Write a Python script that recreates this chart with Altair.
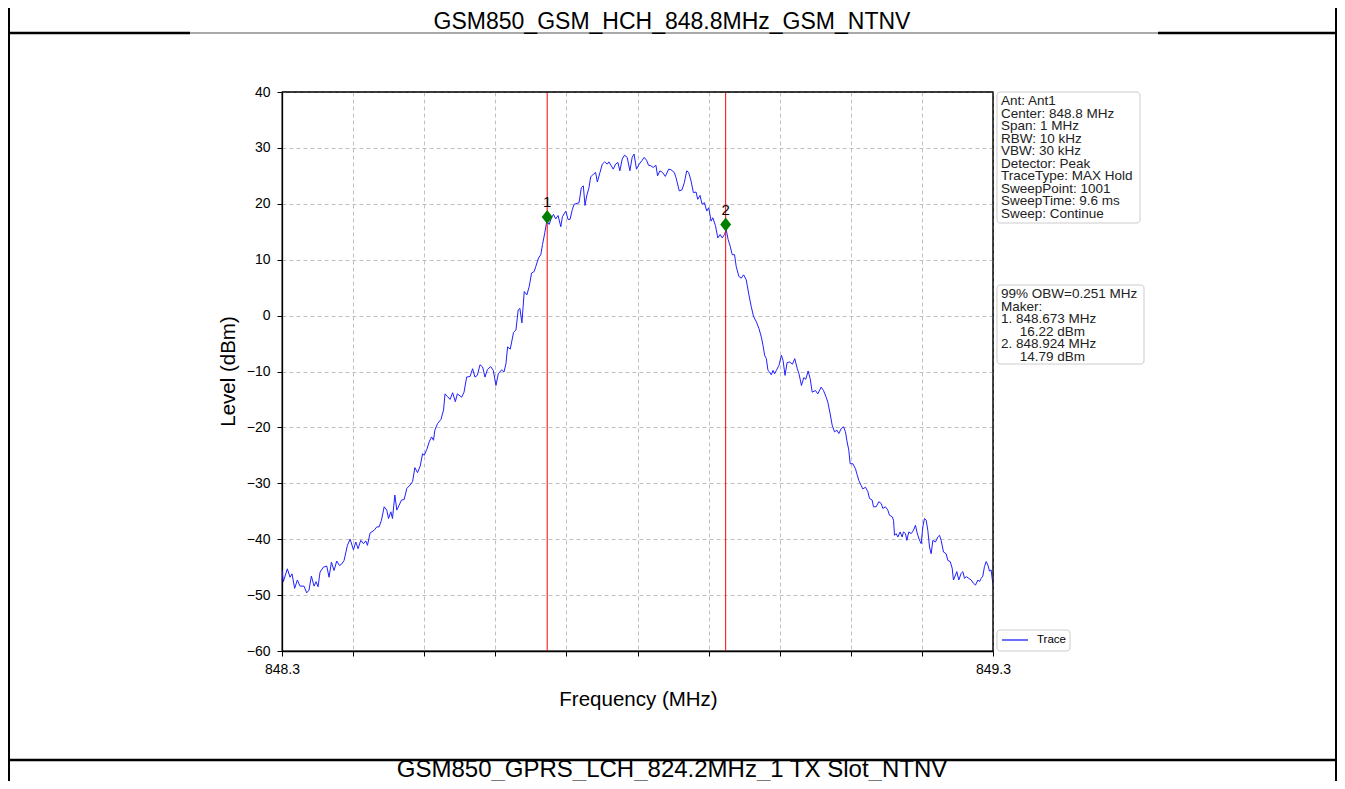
import altair as alt
import pandas as pd

# ---------------- data ----------------
freq_mhz = [
    848.3000, 848.3019, 848.3075, 848.3113, 848.3141, 848.3178, 848.3216, 848.3254, 848.3310, 848.3347,
    848.3380, 848.3413, 848.3451, 848.3479, 848.3507, 848.3535, 848.3582, 848.3629, 848.3662, 848.3695,
    848.3732, 848.3770, 848.3808, 848.3836, 848.3873, 848.3920, 848.3958, 848.4005, 848.4038, 848.4070,
    848.4108, 848.4146, 848.4178, 848.4202, 848.4239, 848.4296, 848.4333, 848.4366, 848.4399, 848.4437,
    848.4474, 848.4498, 848.4531, 848.4554, 848.4587, 848.4615, 848.4648, 848.4681, 848.4718, 848.4756,
    848.4803, 848.4836, 848.4869, 848.4906, 848.4944, 848.4977, 848.5000, 848.5038, 848.5070, 848.5103,
    848.5131, 848.5150, 848.5188, 848.5235, 848.5272, 848.5293, 848.5329, 848.5363, 848.5400, 848.5438,
    848.5466, 848.5527, 848.5560, 848.5597, 848.5644, 848.5681, 848.5714, 848.5747, 848.5785, 848.5822,
    848.5855, 848.5888, 848.5934, 848.5972, 848.6009, 848.6042, 848.6089, 848.6122, 848.6150, 848.6173,
    848.6210, 848.6257, 848.6290, 848.6322, 848.6346, 848.6374, 848.6407, 848.6444, 848.6477, 848.6510,
    848.6547, 848.6570, 848.6607, 848.6640, 848.6664, 848.6696, 848.6724, 848.6757, 848.6790, 848.6818,
    848.6850, 848.6883, 848.6921, 848.6944, 848.6991, 848.7023, 848.7051, 848.7084, 848.7107, 848.7178,
    848.7210, 848.7238, 848.7262, 848.7285, 848.7318, 848.7341, 848.7379, 848.7411, 848.7435, 848.7472,
    848.7505, 848.7537, 848.7575, 848.7598, 848.7631, 848.7659, 848.7692, 848.7724, 848.7752, 848.7785,
    848.7818, 848.7855, 848.7893, 848.7925, 848.7951, 848.7986, 848.8024, 848.8061, 848.8094, 848.8127,
    848.8155, 848.8188, 848.8221, 848.8259, 848.8282, 848.8315, 848.8353, 848.8391, 848.8438, 848.8471,
    848.8518, 848.8541, 848.8588, 848.8626, 848.8659, 848.8692, 848.8720, 848.8753, 848.8786, 848.8824,
    848.8847, 848.8880, 848.8908, 848.8941, 848.8974, 848.9002, 848.9035, 848.9059, 848.9096, 848.9130,
    848.9162, 848.9191, 848.9224, 848.9247, 848.9275, 848.9304, 848.9332, 848.9365, 848.9388, 848.9426,
    848.9459, 848.9492, 848.9529, 848.9567, 848.9600, 848.9633, 848.9671, 848.9708, 848.9741, 848.9765,
    848.9788, 848.9812, 848.9835, 848.9859, 848.9882, 848.9906, 848.9929, 848.9953, 848.9990, 849.0024,
    849.0047, 849.0075, 849.0104, 849.0141, 849.0179, 849.0212, 849.0245, 849.0273, 849.0306, 849.0339,
    849.0367, 849.0400, 849.0429, 849.0457, 849.0503, 849.0536, 849.0583, 849.0616, 849.0654, 849.0677,
    849.0710, 849.0738, 849.0771, 849.0804, 849.0832, 849.0865, 849.0898, 849.0925, 849.0944, 849.0972,
    849.0991, 849.1029, 849.1066, 849.1085, 849.1113, 849.1146, 849.1169, 849.1207, 849.1240, 849.1263,
    849.1300, 849.1319, 849.1357, 849.1394, 849.1427, 849.1451, 849.1488, 849.1521, 849.1544, 849.1582,
    849.1601, 849.1615, 849.1638, 849.1662, 849.1694, 849.1722, 849.1741, 849.1769, 849.1788, 849.1816,
    849.1849, 849.1882, 849.1910, 849.1929, 849.1966, 849.1990, 849.2013, 849.2036, 849.2060, 849.2083,
    849.2107, 849.2130, 849.2154, 849.2191, 849.2224, 849.2248, 849.2271, 849.2304, 849.2341, 849.2365,
    849.2398, 849.2426, 849.2444, 849.2473, 849.2491, 849.2519, 849.2552, 849.2576, 849.2599, 849.2623,
    849.2660, 849.2693, 849.2726, 849.2754, 849.2787, 849.2810, 849.2834, 849.2857, 849.2880, 849.2904,
    849.2927, 849.2951, 849.2974, 849.3000,
]
level_dbm = [
    -45.5, -47.6, -45.3, -46.8, -46.2, -48.8, -47.3, -48.4, -48.4, -49.6,
    -49.1, -46.6, -48.4, -47.6, -48.5, -45.9, -45.0, -44.8, -46.8, -44.1,
    -45.6, -43.9, -44.7, -44.5, -43.8, -41.1, -40.0, -41.9, -40.5, -41.7,
    -40.2, -40.8, -40.3, -41.1, -38.9, -38.4, -37.8, -37.8, -36.6, -34.2,
    -34.8, -36.3, -35.1, -36.3, -32.1, -34.8, -33.9, -33.0, -32.9, -30.9,
    -30.3, -29.7, -27.2, -28.1, -26.9, -24.7, -25.0, -23.9, -22.6, -21.7,
    -22.3, -20.5, -19.3, -18.6, -16.9, -14.0, -14.5, -15.0, -13.8, -15.4,
    -14.0, -14.6, -13.7, -11.0, -10.9, -9.5, -11.0, -10.7, -8.8, -9.2,
    -11.0, -9.7, -9.1, -9.8, -12.5, -10.4, -9.7, -10.1, -8.6, -5.6,
    -6.0, -3.0, -2.6, 1.0, 1.3, -1.3, 4.3, 3.7, 5.2, 7.6,
    7.9, 8.8, 10.3, 10.9, 12.7, 14.8, 16.9, 16.3, 17.5, 18.1,
    17.3, 17.9, 15.9, 17.7, 18.7, 17.2, 17.2, 19.0, 19.9, 20.2,
    22.9, 23.2, 19.7, 21.4, 22.9, 24.8, 25.3, 25.6, 23.9, 25.6,
    27.1, 27.5, 27.1, 27.5, 26.8, 26.2, 27.1, 27.4, 25.9, 28.0,
    28.7, 28.3, 25.9, 28.3, 28.9, 26.2, 27.1, 27.7, 28.3, 27.8,
    26.9, 26.8, 26.5, 26.9, 25.0, 25.9, 25.6, 24.9, 26.2, 26.1,
    25.6, 24.7, 22.3, 22.5, 23.8, 25.9, 25.6, 24.1, 22.0, 22.1,
    20.8, 21.5, 19.9, 20.2, 18.7, 19.3, 16.9, 17.5, 16.1, 13.9,
    14.5, 13.9, 14.5, 15.4, 13.6, 12.4, 10.9, 10.9, 8.8, 7.0,
    6.7, 7.3, 6.4, 3.7, 1.6, -0.2, -1.1, -2.3, -3.8, -5.3,
    -7.1, -7.7, -9.8, -10.1, -10.6, -9.8, -10.4, -9.8, -8.9, -7.1,
    -8.0, -10.7, -8.4, -8.3, -8.7, -7.7, -9.4, -10.5, -12.5, -11.1,
    -11.4, -9.9, -11.3, -13.7, -13.4, -14.0, -12.8, -13.4, -14.6, -15.5,
    -17.6, -19.6, -20.8, -20.5, -21.1, -20.2, -19.9, -20.8, -22.3, -24.1,
    -26.5, -26.5, -27.4, -28.3, -29.5, -30.4, -31.0, -30.7, -31.5, -32.7,
    -33.0, -34.2, -34.2, -33.3, -33.6, -34.5, -34.2, -34.8, -35.7, -36.0,
    -36.6, -39.3, -39.0, -39.6, -38.7, -39.6, -38.7, -39.0, -40.2, -38.7,
    -39.0, -38.4, -37.5, -38.7, -40.2, -40.8, -37.8, -36.3, -36.6, -38.4,
    -41.4, -42.6, -40.2, -40.5, -39.6, -39.3, -40.2, -42.3, -42.6, -43.8,
    -44.0, -45.2, -47.3, -46.4, -45.8, -47.3, -46.1, -45.8, -47.0, -46.7,
    -47.0, -47.3, -47.9, -48.2, -47.3, -47.6, -47.0, -46.6, -44.9, -44.0,
    -44.6, -45.7, -45.5, -48.2,
]
marker_freq_mhz = [848.673, 848.924]
marker_level_dbm = [17.65, 16.29]
marker_labels = ["1", "2"]

x_ticks = [848.3, 848.4, 848.5, 848.6, 848.7, 848.8, 848.9, 849.0, 849.1, 849.2, 849.3]
y_ticks = [-60, -50, -40, -30, -20, -10, 0, 10, 20, 30, 40]

page_title = "GSM850_GSM_HCH_848.8MHz_GSM_NTNV"
next_title = "GSM850_GPRS_LCH_824.2MHz_1 TX Slot_NTNV"
INDENT = "\u200b" + "\u00a0" * 5   # zero-width char keeps the leading spaces from being trimmed
setting_lines = [
    "Ant: Ant1", "Center: 848.8 MHz", "Span: 1 MHz", "RBW: 10 kHz", "VBW: 30 kHz",
    "Detector: Peak", "TraceType: MAX Hold", "SweepPoint: 1001", "SweepTime: 9.6 ms",
    "Sweep: Continue",
]
result_lines = [
    "99% OBW=0.251 MHz", "Maker:", "1. 848.673 MHz", INDENT + "16.22 dBm",
    "2. 848.924 MHz", INDENT + "14.79 dBm",
]
legend_label = "Trace"

FONT = "Liberation Sans"
W, H = 711, 559

trace_df = pd.DataFrame({"freq": freq_mhz, "level": level_dbm})
marker_df = pd.DataFrame({"freq": marker_freq_mhz, "level": marker_level_dbm, "label": marker_labels})
one = pd.DataFrame({"a": [0]})

xscale = alt.Scale(domain=[848.3, 849.3], nice=False, zero=False)
yscale = alt.Scale(domain=[-60, 40], nice=False, zero=False)

x_axis = alt.Axis(
    values=x_ticks,
    labelExpr="(abs(datum.value-848.3)<1e-6 || abs(datum.value-849.3)<1e-6) ? format(datum.value, '.1f') : ''",
    grid=True, gridDash=[4, 3], gridColor="#b0b0b0", gridWidth=0.8,
    tickSize=5, tickColor="black", domainColor="black", domainWidth=1.3,
    labelFont=FONT, labelFontSize=14, labelColor="black", labelPadding=6, labelFlush=False,
    title="Frequency (MHz)", titleFont=FONT, titleFontSize=20.5, titleFontWeight="normal",
    titleColor="black", titleX=356, titleY=48, titleBaseline="middle", titleAlign="center",
)
y_axis = alt.Axis(
    values=y_ticks,
    labelExpr="replace(format(datum.value, 'd'), '-', '\u2212')",
    grid=True, gridDash=[4, 3], gridColor="#b0b0b0", gridWidth=0.8,
    tickSize=5, tickColor="black", domainColor="black", domainWidth=1.3,
    labelFont=FONT, labelFontSize=14, labelColor="black", labelPadding=7,
    title="Level (dBm)", titleFont=FONT, titleFontSize=20.5, titleFontWeight="normal",
    titleColor="black", titleX=-54, titleY=279, titleAngle=270,
    titleBaseline="middle", titleAlign="center",
)

trace = alt.Chart(trace_df).mark_line(color="#2020ff", strokeWidth=1, clip=True).encode(
    x=alt.X("freq:Q", scale=xscale, axis=x_axis),
    y=alt.Y("level:Q", scale=yscale, axis=y_axis),
)

rules = alt.Chart(marker_df).mark_rule(color="#ff0000", strokeWidth=1).encode(
    x=alt.X("freq:Q", scale=xscale)
)

diamond = "M0,-1L0.78,0L0,1L-0.78,0Z"
points = alt.Chart(marker_df).mark_point(
    shape=diamond, filled=True, size=196, color="#008000", opacity=1
).encode(x=alt.X("freq:Q", scale=xscale), y=alt.Y("level:Q", scale=yscale))

labels = alt.Chart(marker_df).mark_text(
    dy=-15, font=FONT, fontSize=15, color="black", baseline="middle"
).encode(x=alt.X("freq:Q", scale=xscale), y=alt.Y("level:Q", scale=yscale), text="label:N")

# ---------------- page furniture (relative to plot origin) ----------------
def hline(x1, x2, y, w, color="black"):
    return alt.Chart(one).mark_rule(color=color, strokeWidth=w).encode(
        x=alt.value(x1), x2=alt.value(x2), y=alt.value(y))

def vline(x, y1, y2, w, color="black"):
    return alt.Chart(one).mark_rule(color=color, strokeWidth=w).encode(
        x=alt.value(x), y=alt.value(y1), y2=alt.value(y2))

def box(x1, x2, y1, y2):
    return alt.Chart(one).mark_rect(
        fill="white", stroke="#cccccc", strokeWidth=1, cornerRadius=3
    ).encode(x=alt.value(x1), x2=alt.value(x2), y=alt.value(y1), y2=alt.value(y2))

# plot border drawn above the grid
border = [
    hline(0, W, 0, 1.3, "#222222"),
    vline(W, 0, H, 1.3, "#222222"),
]

frame = [
    hline(-274, -92, -59, 2.5),
    hline(-92, 876, -59, 1, "#555555"),
    hline(876, 1055, -59, 2.5),
    hline(-274, 1055, 668, 2.5),
    vline(-273, -84, 690, 2),
    vline(1054, -84, 690, 2),
]

title_top = alt.Chart(one).mark_text(
    text=page_title, font=FONT, fontSize=23, color="black", align="center", baseline="middle"
).encode(x=alt.value(390), y=alt.value(-70))
title_bottom = alt.Chart(one).mark_text(
    text=next_title, font=FONT, fontSize=24, color="black", align="center", baseline="middle"
).encode(x=alt.value(390), y=alt.value(678))

box_text_style = dict(lineBreak="\n", lineHeight=12.55, font=FONT, fontSize=13.5,
                      color="#222222", align="left", baseline="top")

box1 = box(715, 858, 0, 131)
box1_text = alt.Chart(one).mark_text(
    text="\n".join(setting_lines), **box_text_style
).encode(x=alt.value(719), y=alt.value(2))

box2 = box(715, 862, 193, 272)
box2_text = alt.Chart(one).mark_text(
    text="\n".join(result_lines), **box_text_style
).encode(x=alt.value(719), y=alt.value(195))

legend_box = box(715, 788, 538, 559)
legend_line = hline(720, 746, 548, 1.3, "#2020ff")
legend_text = alt.Chart(one).mark_text(
    text=legend_label, font=FONT, fontSize=11.5, color="black", align="left", baseline="middle"
).encode(x=alt.value(755), y=alt.value(548))

chart = alt.layer(
    trace, rules, points, labels, *border,
    *frame, title_top, title_bottom,
    box1, box1_text, box2, box2_text, legend_box, legend_line, legend_text,
).properties(
    width=W, height=H,
    padding={"left": 274, "top": 84, "right": 344, "bottom": 130},
    autosize=alt.AutoSizeParams(type="none"),
    background="white",
).configure_view(stroke="black", strokeWidth=1.3)

chart.save("out.html", embed_options={"renderer": "svg", "actions": False})
